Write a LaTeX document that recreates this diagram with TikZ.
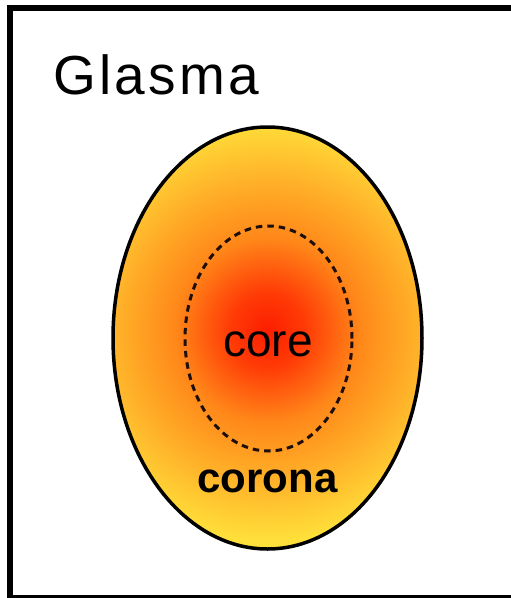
\documentclass[tikz,border=0pt]{standalone}
\usepackage{fontspec}
\setmainfont{Liberation Sans}
\usetikzlibrary{shapes.geometric}
\definecolor{coreRed}{RGB}{252,30,0}
\definecolor{innerRed}{RGB}{255,58,6}
\definecolor{midOrange}{RGB}{255,135,25}
\definecolor{outerOrange}{RGB}{255,175,40}
\definecolor{rimYellow}{RGB}{255,224,58}
\definecolor{frameBlack}{RGB}{0,0,0}
\definecolor{dashDark}{RGB}{30,15,10}
\pgfdeclareradialshading{glowShade}{\pgfpoint{0bp}{0bp}}{%
  color(0bp)=(coreRed); color(4bp)=(innerRed); color(10bp)=(midOrange);
  color(16bp)=(outerOrange); color(23bp)=(rimYellow); color(50bp)=(rimYellow)}
\def\blobX{267.5}
\def\blobY{338}

\begin{document}
\begin{tikzpicture}[x=1pt, y=-1pt,
    frame/.style      ={draw=frameBlack, line width=6pt},
    glasmaBlob/.style ={ellipse, draw=black, line width=3.5pt, inner sep=0pt,
                        minimum width=309pt, minimum height=422pt,
                        path picture={\shade[shading=glowShade]
                          ([yshift=8pt]path picture bounding box.center) circle (230pt);}},
    coreBlob/.style   ={ellipse, draw=dashDark, line width=3pt, dash pattern=on 6.5pt off 5pt,
                        inner sep=0pt, minimum width=167pt, minimum height=225pt},
    titleLabel/.style ={inner sep=0pt, font=\fontsize{55}{66}\selectfont\addfontfeature{LetterSpace=6}},
    coreLabel/.style  ={inner sep=0pt, font=\fontsize{46}{55}\selectfont},
    coronaLabel/.style={inner sep=0pt, font=\bfseries\fontsize{42}{50}\selectfont},
]
\useasboundingbox (0,0) rectangle (511,598);
\clip (0,0) rectangle (511,598);

% outer frame (runs past the right and bottom edges)
\draw[frame] (10,8) rectangle (530,598);

% glasma title
\node[titleLabel, anchor=base west] (glasmaTitle) at (53,94) {Glasma};

% shaded blob and dashed core
\node[glasmaBlob] (glasma) at (\blobX,\blobY) {};
\node[coreBlob]   (core)   at (268.5,338.5) {};

% labels
\node[coreLabel, anchor=base]   (coreText)   at (268,356)   {core};
\node[coronaLabel, anchor=base] (coronaText) at (267.5,492) {corona};

\end{tikzpicture}
\end{document}
